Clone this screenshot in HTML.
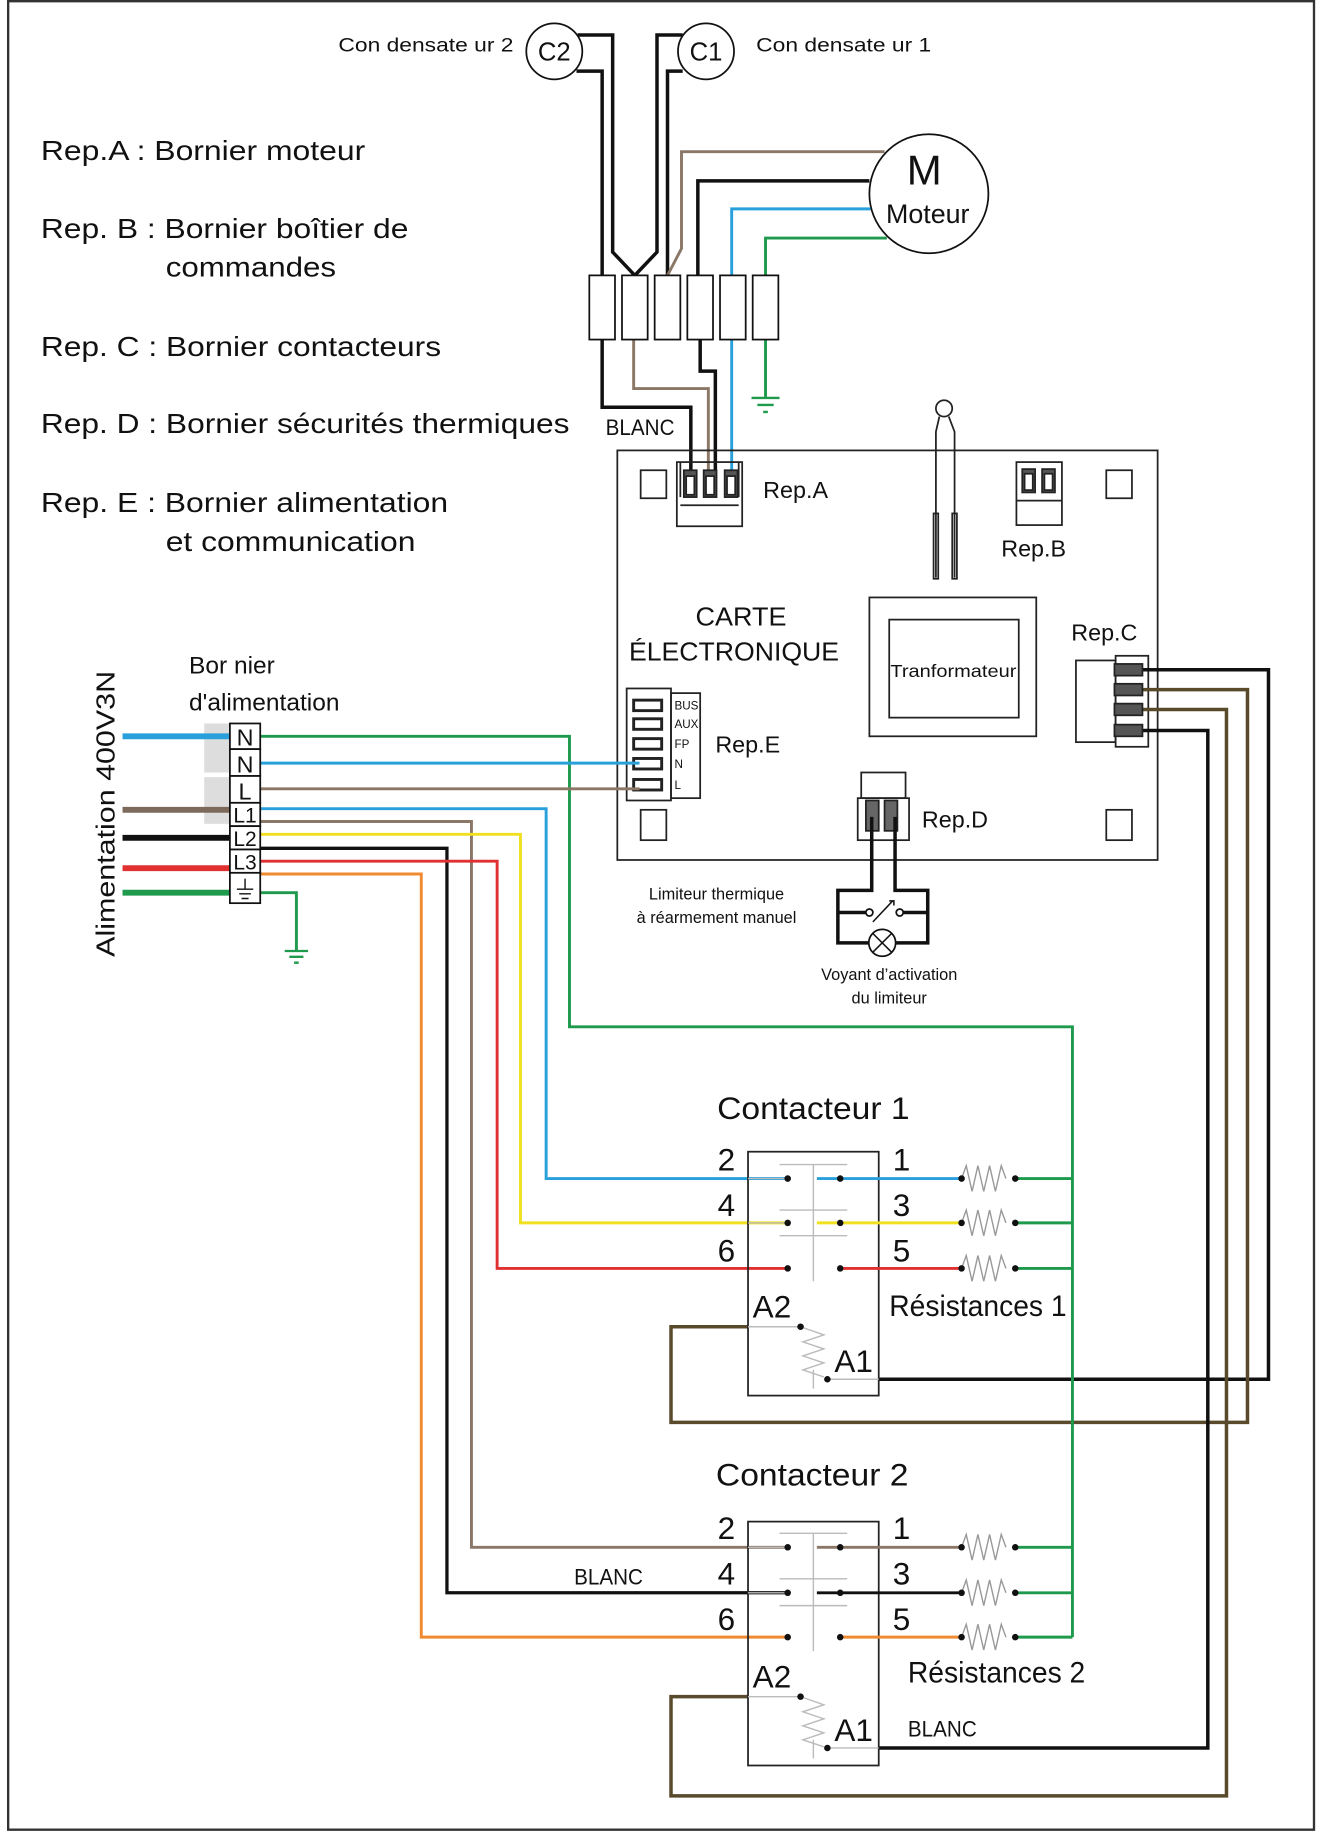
<!DOCTYPE html>
<html><head><meta charset="utf-8"><style>
html,body{margin:0;padding:0;background:#fff;}
svg{display:block;}
text{font-family:"Liberation Sans","DejaVu Sans",sans-serif;fill:#111;}
</style></head><body>
<svg width="1321" height="1832" viewBox="0 0 1132 1570" preserveAspectRatio="none" xmlns="http://www.w3.org/2000/svg">
<rect x="0" y="0" width="1132" height="1570" fill="#fff"/>
<!-- frame -->
<path d="M7,1 H1126 V1568 H7 Z" fill="none" stroke="#333" stroke-width="2"/>

<!-- left legend -->
<g font-size="24">
<text x="35" y="137" textLength="278" lengthAdjust="spacingAndGlyphs">Rep.A : Bornier moteur</text>
<text x="35" y="204" textLength="315" lengthAdjust="spacingAndGlyphs">Rep. B : Bornier boîtier de</text>
<text x="142" y="237" textLength="146" lengthAdjust="spacingAndGlyphs">commandes</text>
<text x="35" y="305" textLength="343" lengthAdjust="spacingAndGlyphs">Rep. C : Bornier contacteurs</text>
<text x="35" y="371" textLength="453" lengthAdjust="spacingAndGlyphs">Rep. D : Bornier sécurités thermiques</text>
<text x="35" y="439" textLength="349" lengthAdjust="spacingAndGlyphs">Rep. E : Bornier alimentation</text>
<text x="142" y="472" textLength="214" lengthAdjust="spacingAndGlyphs">et communication</text>
</g>

<!-- capacitors -->
<text x="290" y="44" font-size="17" textLength="150" lengthAdjust="spacingAndGlyphs">Con densate ur 2</text>
<text x="648" y="44" font-size="17" textLength="150" lengthAdjust="spacingAndGlyphs">Con densate ur 1</text>
<circle cx="475" cy="44" r="24" fill="#fff" stroke="#111" stroke-width="1.5"/>
<circle cx="605" cy="44" r="24" fill="#fff" stroke="#111" stroke-width="1.5"/>
<text x="475" y="52" font-size="22" text-anchor="middle">C2</text>
<text x="605" y="52" font-size="22" text-anchor="middle">C1</text>

<!-- motor -->
<circle cx="796" cy="166" r="51" fill="#fff" stroke="#111" stroke-width="1.5"/>
<text x="792" y="158" font-size="36" text-anchor="middle">M</text>
<text x="795" y="191" font-size="23" text-anchor="middle">Moteur</text>

<!-- wires motor area -->
<g fill="none" stroke-linejoin="miter">
<path d="M495,30 H525 V216 L544,236" stroke="#111" stroke-width="3"/>
<path d="M585,30 H563 V216 L544,236" stroke="#111" stroke-width="3"/>
<path d="M494,61 H516 V236" stroke="#111" stroke-width="3"/>
<path d="M516,291 V349 H592 V410" stroke="#111" stroke-width="3"/>
<path d="M585,61 H572 V236" stroke="#111" stroke-width="3"/>
<path d="M758,130 H584 V213 L572,236" stroke="#8b7766" stroke-width="2.5"/>
<path d="M745,155 H598 V236" stroke="#111" stroke-width="3"/>
<path d="M600,291 V318 H613 V410" stroke="#111" stroke-width="3"/>
<path d="M543,291 V333 H607 V410" stroke="#8b7766" stroke-width="2.5"/>
<path d="M746,179 H627 V410" stroke="#29a0dc" stroke-width="2.5"/>
<path d="M760,204 H656 V341" stroke="#1f9a4d" stroke-width="2.5"/>
<path d="M644,341 H668 M649,347 H663 M654,353 H658" stroke="#1f9a4d" stroke-width="2"/>
</g>
<g fill="#fff" stroke="#111" stroke-width="1.5">
<rect x="505" y="236" width="22" height="55"/>
<rect x="533" y="236" width="22" height="55"/>
<rect x="561" y="236" width="22" height="55"/>
<rect x="589" y="236" width="22" height="55"/>
<rect x="617" y="236" width="22" height="55"/>
<rect x="645" y="236" width="22" height="55"/>
</g>
<text x="519" y="373" font-size="19" textLength="59" lengthAdjust="spacingAndGlyphs">BLANC</text>

<!-- board -->
<rect x="529" y="386" width="463" height="351" fill="none" stroke="#222" stroke-width="1.5"/>
<g fill="none" stroke="#222" stroke-width="1.5">
<rect x="549" y="403" width="22" height="24"/>
<rect x="948" y="403" width="22" height="24"/>
<rect x="549" y="694" width="22" height="26"/>
<rect x="948" y="694" width="22" height="26"/>
</g>
<!-- Rep.A -->
<g stroke="#222" stroke-width="1.5" fill="none">
<rect x="580" y="396" width="56" height="55"/>
<line x1="583" y1="433" x2="633" y2="433"/>
<line x1="583" y1="396" x2="583" y2="426"/><line x1="633" y1="396" x2="633" y2="426"/>
<rect x="586" y="403" width="11" height="23" fill="#555"/><rect x="588" y="408" width="7" height="16" fill="#fff"/>
<rect x="603" y="403" width="11" height="23" fill="#555"/><rect x="605" y="408" width="7" height="16" fill="#fff"/>
<rect x="621" y="403" width="11" height="23" fill="#555"/><rect x="623" y="408" width="7" height="16" fill="#fff"/>
</g>
<text x="654" y="427" font-size="20">Rep.A</text>
<!-- Rep.B -->
<g stroke="#222" stroke-width="1.5" fill="none">
<rect x="871" y="396" width="39" height="54"/>
<line x1="871" y1="429" x2="910" y2="429"/>
<rect x="876" y="402" width="11" height="20" fill="#555"/><rect x="878" y="406" width="7" height="14" fill="#fff"/>
<rect x="893" y="402" width="11" height="20" fill="#555"/><rect x="895" y="406" width="7" height="14" fill="#fff"/>
</g>
<text x="858" y="477" font-size="20">Rep.B</text>
<!-- thermo probe -->
<g stroke="#222" stroke-width="1.5" fill="none">
<circle cx="809" cy="350" r="7"/>
<path d="M805,357 L802,370 V495 M813,357 L818,370 V495"/>
<rect x="800" y="440" width="4" height="56"/><rect x="816" y="440" width="4" height="56"/>
</g>
<text x="635" y="536" font-size="22" text-anchor="middle" textLength="78" lengthAdjust="spacingAndGlyphs">CARTE</text>
<text x="629" y="566" font-size="22" text-anchor="middle" textLength="180" lengthAdjust="spacingAndGlyphs">ÉLECTRONIQUE</text>
<!-- transformer -->
<rect x="745" y="512" width="143" height="119" fill="none" stroke="#222" stroke-width="1.5"/>
<rect x="762" y="531" width="111" height="84" fill="none" stroke="#222" stroke-width="1.5"/>
<text x="817" y="580" font-size="15" text-anchor="middle" textLength="108" lengthAdjust="spacingAndGlyphs">Tranformateur</text>
<!-- Rep.C -->
<text x="918" y="549" font-size="20">Rep.C</text>
<g stroke="#222" stroke-width="1.5" fill="none">
<rect x="922" y="566" width="34" height="70"/>
<rect x="956" y="562" width="28" height="78"/>
</g>
<g fill="none">
<path d="M960,574 H1087 V1182 H753" stroke="#111" stroke-width="3"/>
<path d="M960,591 H1069 V1219 H575 V1137 H641" stroke="#5a4a2c" stroke-width="3"/>
<path d="M960,608 H1051 V1539 H575 V1454 H641" stroke="#5a4a2c" stroke-width="3"/>
<path d="M960,626 H1035 V1498 H753" stroke="#111" stroke-width="3"/>
</g>
<g stroke="#222" stroke-width="1.5" fill="#555">
<rect x="955" y="569" width="24" height="10"/><rect x="955" y="586" width="24" height="10"/>
<rect x="955" y="603" width="24" height="10"/><rect x="955" y="621" width="24" height="10"/>
</g>
<!-- Rep.E -->
<g stroke="#222" stroke-width="1.5" fill="none">
<rect x="537" y="590" width="38" height="96"/>
<rect x="575" y="594" width="25" height="90"/>
</g>
<g stroke="#222" stroke-width="2.5" fill="#fff">
<rect x="543" y="600" width="24" height="9"/><rect x="543" y="616" width="24" height="9"/>
<rect x="543" y="633" width="24" height="9"/><rect x="543" y="650" width="24" height="9"/>
<rect x="543" y="668" width="24" height="9"/>
</g>
<g font-size="10"><text x="578" y="608">BUS</text><text x="578" y="624">AUX</text><text x="578" y="641">FP</text><text x="578" y="658">N</text><text x="578" y="676">L</text></g>
<text x="613" y="645" font-size="20">Rep.E</text>
<!-- Rep.D -->
<g stroke="#222" stroke-width="1.5" fill="none">
<rect x="738" y="662" width="38" height="22"/>
<rect x="735" y="684" width="44" height="36"/>
<rect x="742" y="686" width="11" height="26" fill="#666"/><rect x="758" y="686" width="11" height="26" fill="#666"/>
</g>
<text x="790" y="709" font-size="20">Rep.D</text>
<!-- limiter -->
<g fill="none" stroke="#111" stroke-width="3">
<path d="M747,700 V763 H718 V808 H745 M767,700 V763 H795 V808 H768"/>
<path d="M718,782 H742 M774,782 H795"/>
</g>
<g fill="#fff" stroke="#111" stroke-width="1.5">
<circle cx="745" cy="782" r="3"/><circle cx="771" cy="782" r="3"/>
<circle cx="756" cy="808" r="11.5"/>
</g>
<path d="M748,790 L765,772 M762,772 H766 V776 M748,800 L764,816 M764,800 L748,816" stroke="#111" stroke-width="1.3" fill="none"/>
<text x="614" y="771" font-size="14" text-anchor="middle">Limiteur thermique</text>
<text x="614" y="791" font-size="14" text-anchor="middle">à réarmement manuel</text>
<text x="762" y="840" font-size="14" text-anchor="middle">Voyant d’activation</text>
<text x="762" y="860" font-size="14" text-anchor="middle">du limiteur</text>

<!-- bornier alimentation -->
<text x="162" y="577" font-size="21">Bor nier</text>
<text x="162" y="609" font-size="21">d'alimentation</text>
<text transform="translate(98,820) rotate(-90)" font-size="22" textLength="245" lengthAdjust="spacingAndGlyphs">Alimentation 400V3N</text>
<rect x="175" y="620" width="22" height="42" fill="#ddd"/>
<rect x="175" y="666" width="22" height="40" fill="#ddd"/>
<g fill="none">
<path d="M105,631 H198" stroke="#29a0dc" stroke-width="5"/>
<path d="M105,694 H198" stroke="#7d6a5a" stroke-width="5"/>
<path d="M105,718 H198" stroke="#111" stroke-width="5"/>
<path d="M105,744 H198" stroke="#e03030" stroke-width="5"/>
<path d="M105,765 H198" stroke="#1f9a4d" stroke-width="5"/>
<!-- outgoing -->
<path d="M222,631 H488 V880 H919 V1403" stroke="#1f9a4d" stroke-width="2.5"/>
<path d="M222,654 H548" stroke="#29a0dc" stroke-width="2.5"/>
<path d="M222,676 H548" stroke="#8b7766" stroke-width="2.5"/>
<path d="M222,693 H468 V1010 H675" stroke="#29a0dc" stroke-width="2.5"/>
<path d="M222,704 H404 V1326 H675" stroke="#8b7766" stroke-width="2.5"/>
<path d="M222,715 H446 V1048 H675" stroke="#f0e020" stroke-width="2.5"/>
<path d="M222,727 H383 V1365 H675" stroke="#111" stroke-width="2.8"/>
<path d="M222,738 H426 V1087 H675" stroke="#e03030" stroke-width="2.5"/>
<path d="M222,749 H361 V1403 H675" stroke="#f08a30" stroke-width="2.5"/>
<path d="M222,765 H254 V815" stroke="#1f9a4d" stroke-width="2.5"/>
<path d="M244,815 H264 M248,820 H260 M252,825 H256" stroke="#1f9a4d" stroke-width="2"/>
</g>
<g fill="#fff" stroke="#111" stroke-width="1.5">
<rect x="197" y="620" width="26" height="22"/><rect x="197" y="642" width="26" height="23"/>
<rect x="197" y="665" width="26" height="23"/><rect x="197" y="688" width="26" height="20"/>
<rect x="197" y="708" width="26" height="20"/><rect x="197" y="728" width="26" height="20"/>
<rect x="197" y="748" width="26" height="26"/>
</g>
<g font-size="20" text-anchor="middle">
<text x="210" y="639">N</text><text x="210" y="662">N</text><text x="210" y="685">L</text>
<text x="210" y="705" font-size="18">L1</text><text x="210" y="725" font-size="18">L2</text><text x="210" y="745" font-size="18">L3</text>
</g>
<path d="M210,753 V762 M203,762 H217 M205,766 H215 M207,770 H213" stroke="#111" stroke-width="1.2" fill="none"/>

<!-- Contacteur 1 -->
<text x="697" y="959" font-size="27" text-anchor="middle" textLength="165" lengthAdjust="spacingAndGlyphs">Contacteur 1</text>
<rect x="641" y="987" width="112" height="209" fill="none" stroke="#222" stroke-width="1.5"/>
<g stroke="#bbb" stroke-width="1.2" fill="none">
<path d="M668,998 H726 M697,998 V1098 M668,1037 H726 M668,1059 H726"/>
<path d="M641,1010 H675 M641,1048 H675"/>
<path d="M641,1137 H686 M686,1137 L706,1144 L688,1150 L706,1156 L688,1162 L706,1168 L688,1174 L706,1180 M697,1174 V1190 M709,1182 H753"/>
<path d="M824,1010 l4,-11 l5,22 l5,-22 l5,22 l5,-22 l5,22 l5,-22 l4,11 M824,1048 l4,-11 l5,22 l5,-22 l5,22 l5,-22 l5,22 l5,-22 l4,11 M824,1087 l4,-11 l5,22 l5,-22 l5,22 l5,-22 l5,22 l5,-22 l4,11" stroke="#999"/>
</g>
<g fill="none" stroke-width="2.5">
<path d="M700,1010 H824" stroke="#29a0dc"/>
<path d="M700,1048 H824" stroke="#f0e020"/>
<path d="M720,1087 H824" stroke="#e03030"/>
<path d="M870,1010 H919 M870,1048 H919 M870,1087 H919" stroke="#1f9a4d"/>
</g>
<g fill="#111">
<circle cx="675" cy="1010" r="2.8"/><circle cx="720" cy="1010" r="2.8"/>
<circle cx="675" cy="1048" r="2.8"/><circle cx="720" cy="1048" r="2.8"/>
<circle cx="675" cy="1087" r="2.8"/><circle cx="720" cy="1087" r="2.8"/>
<circle cx="824" cy="1010" r="2.8"/><circle cx="870" cy="1010" r="2.8"/>
<circle cx="824" cy="1048" r="2.8"/><circle cx="870" cy="1048" r="2.8"/>
<circle cx="824" cy="1087" r="2.8"/><circle cx="870" cy="1087" r="2.8"/>
<circle cx="686" cy="1137" r="2.8"/><circle cx="709" cy="1182" r="2.8"/>
</g>
<g font-size="27"><text x="615" y="1003">2</text><text x="615" y="1042">4</text><text x="615" y="1081">6</text>
<text x="765" y="1003">1</text><text x="765" y="1042">3</text><text x="765" y="1081">5</text>
<text x="645" y="1129">A2</text><text x="715" y="1176">A1</text></g>
<text x="762" y="1128" font-size="25" textLength="152" lengthAdjust="spacingAndGlyphs">Résistances 1</text>

<!-- Contacteur 2 -->
<text x="696" y="1273" font-size="27" text-anchor="middle" textLength="165" lengthAdjust="spacingAndGlyphs">Contacteur 2</text>
<rect x="641" y="1304" width="112" height="209" fill="none" stroke="#222" stroke-width="1.5"/>
<g stroke="#bbb" stroke-width="1.2" fill="none">
<path d="M668,1314 H726 M697,1314 V1415 M668,1353 H726 M668,1376 H726"/>
<path d="M641,1326 H675 M641,1365 H675"/>
<path d="M641,1454 H686 M686,1454 L706,1461 L688,1467 L706,1473 L688,1479 L706,1485 L688,1491 L706,1497 M697,1491 V1507 M709,1498 H753"/>
<path d="M824,1326 l4,-11 l5,22 l5,-22 l5,22 l5,-22 l5,22 l5,-22 l4,11 M824,1365 l4,-11 l5,22 l5,-22 l5,22 l5,-22 l5,22 l5,-22 l4,11 M824,1403 l4,-11 l5,22 l5,-22 l5,22 l5,-22 l5,22 l5,-22 l4,11" stroke="#999"/>
</g>
<g fill="none" stroke-width="2.5">
<path d="M700,1326 H824" stroke="#8b7766"/>
<path d="M700,1365 H824" stroke="#111"/>
<path d="M720,1403 H824" stroke="#f08a30"/>
<path d="M870,1326 H919 M870,1365 H919 M870,1403 H919" stroke="#1f9a4d"/>
</g>
<g fill="#111">
<circle cx="675" cy="1326" r="2.8"/><circle cx="720" cy="1326" r="2.8"/>
<circle cx="675" cy="1365" r="2.8"/><circle cx="720" cy="1365" r="2.8"/>
<circle cx="675" cy="1403" r="2.8"/><circle cx="720" cy="1403" r="2.8"/>
<circle cx="824" cy="1326" r="2.8"/><circle cx="870" cy="1326" r="2.8"/>
<circle cx="824" cy="1365" r="2.8"/><circle cx="870" cy="1365" r="2.8"/>
<circle cx="824" cy="1403" r="2.8"/><circle cx="870" cy="1403" r="2.8"/>
<circle cx="686" cy="1454" r="2.8"/><circle cx="709" cy="1498" r="2.8"/>
</g>
<g font-size="27"><text x="615" y="1319">2</text><text x="615" y="1358">4</text><text x="615" y="1397">6</text>
<text x="765" y="1319">1</text><text x="765" y="1358">3</text><text x="765" y="1397">5</text>
<text x="645" y="1446">A2</text><text x="715" y="1492">A1</text></g>
<text x="778" y="1442" font-size="25" textLength="152" lengthAdjust="spacingAndGlyphs">Résistances 2</text>
<text x="492" y="1358" font-size="19" textLength="59" lengthAdjust="spacingAndGlyphs">BLANC</text>
<text x="778" y="1488" font-size="19" textLength="59" lengthAdjust="spacingAndGlyphs">BLANC</text>
</svg>
</body></html>
